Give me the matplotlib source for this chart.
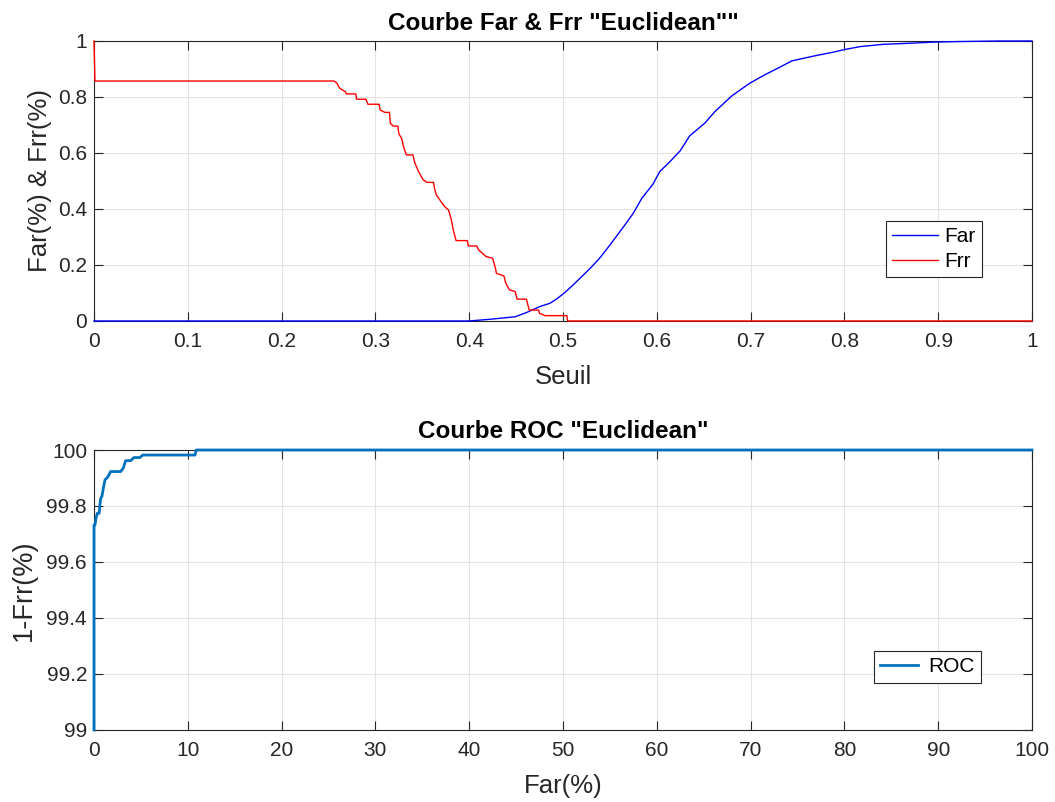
import matplotlib.pyplot as plt
from matplotlib.ticker import FuncFormatter

plt.rcParams['font.family'] = ['Liberation Sans', 'DejaVu Sans']

# Far curve (threshold, rate)
far_seuil = [0.0, 0.40, 0.422, 0.449, 0.461, 0.475, 0.486, 0.493, 0.501, 0.509,
             0.518, 0.529, 0.539, 0.550, 0.566, 0.575, 0.584, 0.596, 0.603,
             0.614, 0.625, 0.635, 0.646, 0.651, 0.662, 0.680, 0.699, 0.715,
             0.731, 0.744, 0.767, 0.788, 0.801, 0.817, 0.841, 0.870, 0.895,
             0.923, 0.966, 1.0]
far_val = [0.0, 0.0, 0.006, 0.015, 0.030, 0.051, 0.063, 0.078, 0.099, 0.123,
           0.152, 0.188, 0.224, 0.271, 0.343, 0.385, 0.438, 0.489, 0.533,
           0.569, 0.608, 0.661, 0.692, 0.706, 0.748, 0.804, 0.849, 0.879,
           0.906, 0.929, 0.946, 0.960, 0.970, 0.980, 0.988, 0.992, 0.996,
           0.998, 1.0, 1.0]

# Frr curve (threshold, rate) - stepwise
frr_seuil = [0.0, 0.001, 0.256, 0.259, 0.262, 0.268, 0.269, 0.279, 0.280, 0.290,
             0.292, 0.304, 0.305, 0.310, 0.315, 0.316, 0.319, 0.324, 0.325,
             0.328, 0.330, 0.333, 0.340, 0.342, 0.346, 0.351, 0.355, 0.362,
             0.363, 0.365, 0.370, 0.374, 0.378, 0.381, 0.383, 0.386, 0.398,
             0.399, 0.408, 0.410, 0.418, 0.425, 0.428, 0.429, 0.437, 0.439,
             0.443, 0.449, 0.451, 0.461, 0.464, 0.474, 0.475, 0.481, 0.504,
             0.505, 1.0]
frr_val = [1.0, 0.857, 0.857, 0.849, 0.831, 0.819, 0.811, 0.811, 0.792, 0.792,
           0.774, 0.774, 0.754, 0.745, 0.745, 0.706, 0.696, 0.696, 0.668,
           0.652, 0.622, 0.593, 0.593, 0.565, 0.533, 0.504, 0.495, 0.495,
           0.474, 0.450, 0.426, 0.408, 0.396, 0.361, 0.325, 0.287, 0.287,
           0.268, 0.268, 0.254, 0.230, 0.224, 0.188, 0.170, 0.161, 0.135,
           0.111, 0.105, 0.078, 0.078, 0.039, 0.039, 0.027, 0.019, 0.019,
           0.0, 0.0]

# ROC curve: Far(%) vs 1-Frr(%)
roc_far = [0.0, 0.0, 0.1, 0.21, 0.35, 0.55, 0.63, 0.71, 0.85, 0.99, 1.17,
           1.5, 1.77, 2.84, 3.12, 3.37, 3.9, 4.26, 4.9, 5.19, 10.77, 10.9, 100.0]
roc_val = [99.0, 99.732, 99.732, 99.756, 99.774, 99.774, 99.804, 99.827,
           99.835, 99.863, 99.893, 99.905, 99.923, 99.923, 99.935, 99.962,
           99.962, 99.973, 99.973, 99.982, 99.982, 100.0, 100.0]

fmt = FuncFormatter(lambda v, p: '%g' % round(v, 2))


def style_axes(ax):
    ax.tick_params(direction='in', top=True, right=True, labelsize=15,
                   length=6.5, width=0.8, color='#262626', labelcolor='#262626')
    ax.tick_params(axis='x', pad=8)
    ax.tick_params(axis='y', pad=5)
    for s in ax.spines.values():
        s.set_color('#262626')
        s.set_linewidth(0.8)
    ax.grid(True, color='#e3e3e3', linewidth=0.8)
    ax.set_axisbelow(True)


fig = plt.figure(figsize=(10.55, 8.02), dpi=100)

ax1 = fig.add_axes([0.0891, 0.5998, 0.8891, 0.3491])
ax1.plot(far_seuil, far_val, color='#0000ff', linewidth=1, label='Far',
         clip_on=False, zorder=3)
ax1.plot(frr_seuil, frr_val, color='#ff0000', linewidth=1, label='Frr',
         clip_on=False, zorder=3)
ax1.set_xlim(0, 1)
ax1.set_ylim(0, 1)
ax1.set_xticks([i / 10 for i in range(11)])
ax1.set_yticks([0, 0.2, 0.4, 0.6, 0.8, 1])
ax1.xaxis.set_major_formatter(fmt)
ax1.yaxis.set_major_formatter(fmt)
style_axes(ax1)
ax1.set_title('Courbe Far & Frr "Euclidean""', fontsize=17.5, fontweight='bold', pad=8)
ax1.set_xlabel('Seuil', fontsize=18.5, color='#262626', labelpad=10)
ax1.set_ylabel('Far(%) & Frr(%)', fontsize=18.5, color='#262626', labelpad=4)
leg1 = ax1.legend(loc='upper left', bbox_to_anchor=(0.844, 0.358),
                  fontsize=15, fancybox=False, framealpha=1,
                  edgecolor='#262626', handlelength=2.2, handletextpad=0.3,
                  borderpad=0.3, labelspacing=0.3, borderaxespad=0)
leg1.get_frame().set_linewidth(0.8)

ax2 = fig.add_axes([0.0891, 0.0898, 0.8891, 0.3491])
ax2.plot(roc_far, roc_val, color='#0072bd', linewidth=2, label='ROC',
         clip_on=False, zorder=3)
ax2.set_xlim(0, 100)
ax2.set_ylim(99, 100)
ax2.set_xticks(range(0, 101, 10))
ax2.set_yticks([99, 99.2, 99.4, 99.6, 99.8, 100])
ax2.yaxis.set_major_formatter(fmt)
style_axes(ax2)
ax2.set_title('Courbe ROC "Euclidean"', fontsize=17.5, fontweight='bold', pad=9)
ax2.set_xlabel('Far(%)', fontsize=18.5, color='#262626', labelpad=10)
ax2.set_ylabel('1-Frr(%)', fontsize=19.5, color='#262626', labelpad=7)
leg2 = ax2.legend(loc='upper left', bbox_to_anchor=(0.8316, 0.282),
                  fontsize=15, fancybox=False, framealpha=1,
                  edgecolor='#262626', handlelength=1.8, handletextpad=0.5,
                  borderpad=0.3, borderaxespad=0)
leg2.get_frame().set_linewidth(0.8)

fig.savefig('out.png', dpi=100)
